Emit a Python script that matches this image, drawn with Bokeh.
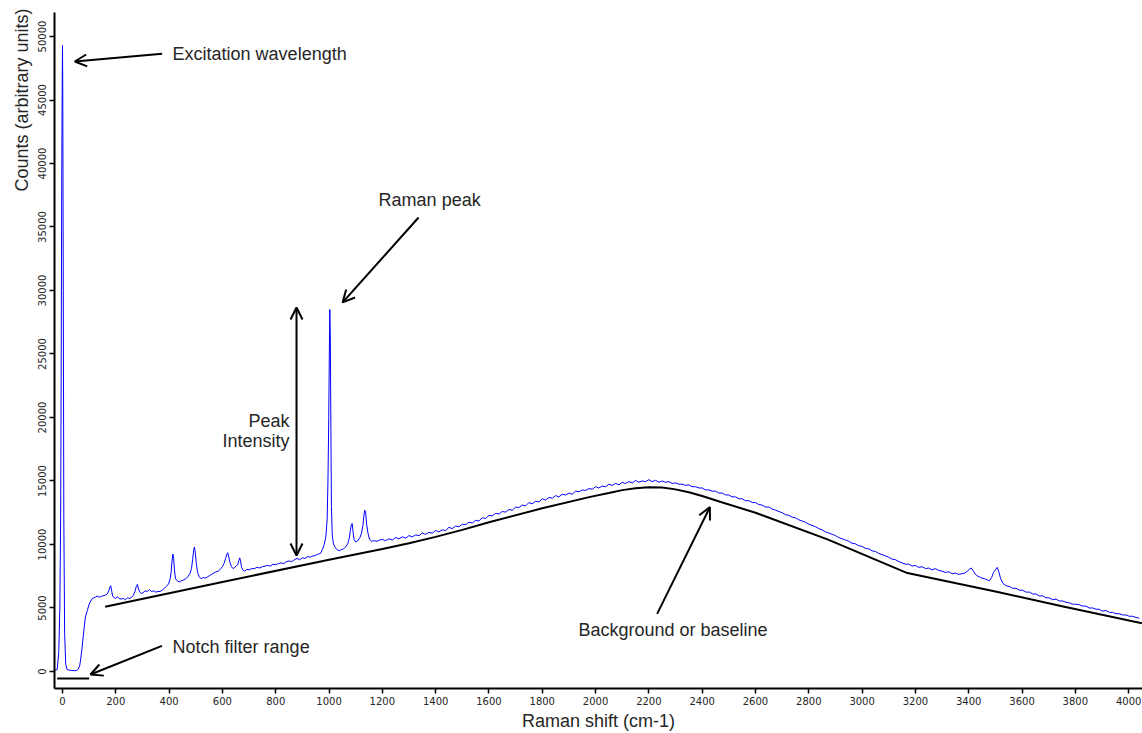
from bokeh.plotting import figure
from bokeh.models import Range1d, FixedTicker, Arrow, OpenHead, Label, ColumnDataSource, Title
from bokeh.embed import file_html
from bokeh.resources import INLINE

# ---------------- data ----------------
shift = [-30, -20, -14, -10, -7, -5, -3, -1, 0, 1, 3, 5, 8, 12, 17, 25, 35, 45, 52, 58, 64, 68, 72, 76, 80, 86, 93, 100, 106, 112, 118, 124, 130, 137, 143, 150, 160, 168,
         174, 178, 181, 184, 188, 194, 200, 206, 212, 220, 228, 236, 244, 252, 260, 266, 272, 277, 281, 285, 290, 296, 302, 310, 318, 326, 334, 342, 350, 358, 366, 374, 382, 390, 398,
         404, 408, 411, 414, 417, 420, 424, 430, 438, 446, 454, 462, 470, 478, 484, 488, 492, 495, 498, 502, 507, 513, 520, 528, 536, 544, 552, 560, 568, 576, 584, 592,
         600, 606, 612, 617, 620, 624, 628, 634, 640, 646, 652, 658, 662, 665, 668, 672, 678, 684, 692, 700, 710, 720, 730, 740, 750, 760, 770, 780, 790, 800, 810, 820,
         830, 840, 850, 860, 870, 880, 890, 900, 910, 920, 930, 940, 950, 960, 968, 975, 982, 988, 993, 996, 999, 1001, 1003, 1005, 1007, 1009, 1012, 1016, 1022, 1030,
         1038, 1046, 1054, 1062, 1070, 1076, 1080, 1084, 1087, 1090, 1094, 1100, 1108, 1116, 1122, 1127, 1131, 1134, 1137, 1141, 1146, 1152, 1160, 1170, 1180, 1190,
         1200, 1212, 1225, 1238, 1250, 1262, 1275, 1288, 1300, 1312, 1325, 1338, 1350, 1362, 1375, 1388, 1400, 1412, 1425, 1438, 1450, 1462, 1475, 1488,
         1500, 1512, 1525, 1538, 1550, 1562, 1575, 1588, 1600, 1612, 1625, 1638, 1650, 1662, 1675, 1688, 1700, 1712, 1725, 1738, 1750, 1762, 1775, 1788,
         1800, 1812, 1825, 1838, 1850, 1862, 1875, 1888, 1900, 1912, 1925, 1938, 1950, 1962, 1975, 1988, 2000, 2012, 2025, 2038, 2050, 2062, 2075, 2088,
         2100, 2112, 2125, 2138, 2150, 2162, 2175, 2188, 2200, 2212, 2225, 2238, 2250, 2262, 2275, 2288, 2300, 2312, 2325, 2338, 2350, 2362, 2375, 2388,
         2400, 2412, 2425, 2438, 2450, 2462, 2475, 2488, 2500, 2512, 2525, 2538, 2550, 2562, 2575, 2588, 2600, 2612, 2625, 2638, 2650, 2662, 2675, 2688,
         2700, 2712, 2725, 2738, 2750, 2762, 2775, 2788, 2800, 2812, 2825, 2838, 2850, 2862, 2875, 2888, 2900, 2912, 2925, 2938, 2950, 2962, 2975, 2988,
         3000, 3012, 3025, 3038, 3050, 3062, 3075, 3088, 3100, 3112, 3125, 3138, 3150, 3162, 3175, 3188, 3200, 3212, 3225, 3238, 3250, 3262, 3275, 3288,
         3300, 3312, 3325, 3338, 3350, 3362, 3375, 3385, 3395, 3403, 3410, 3416, 3422, 3430, 3440, 3450, 3460, 3470, 3478, 3486, 3493, 3500, 3507, 3513, 3520,
         3528, 3540, 3552, 3565, 3578, 3590, 3602, 3615, 3628, 3640, 3652, 3665, 3678, 3690, 3702, 3715, 3728, 3740, 3752, 3765, 3778, 3790, 3802, 3815, 3828,
         3840, 3852, 3865, 3878, 3890, 3902, 3915, 3928, 3940, 3952, 3965, 3978, 3990, 4002, 4015, 4028, 4040]
counts = [100, 150, 1500, 5000, 12000, 23000, 38000, 46500, 49300, 46000, 30000, 12000, 3000, 600, 150, 100, 80, 60, 80, 150, 400, 900, 1600, 2400, 3200, 4300, 4800, 5300, 5550, 5750, 5800, 5850, 5950, 5850, 5900, 5950, 6000, 6100,
          6350, 6650, 6750, 6400, 5950, 5800, 5750, 5900, 5750, 5700, 5750, 5650, 5800, 5750, 5850, 6000, 6300, 6700, 6850, 6500, 6250, 6150, 6200, 6350, 6300, 6450, 6300, 6350, 6250, 6300, 6300, 6400, 6550, 6700, 6900,
          7300, 7900, 8700, 9250, 8900, 8000, 7300, 7150, 7050, 7150, 7200, 7300, 7450, 7700, 8100, 8800, 9500, 9800, 9400, 8500, 7800, 7450, 7300, 7400, 7350, 7450, 7550, 7650, 7750, 7850, 7900, 8050,
          8250, 8500, 8900, 9250, 9350, 9000, 8600, 8250, 8100, 8200, 8300, 8450, 8750, 8950, 8700, 8200, 7950, 7900, 8050, 8000, 8100, 8100, 8200, 8150, 8250, 8300, 8350, 8300, 8450, 8400, 8500, 8550,
          8500, 8650, 8700, 8650, 8800, 8900, 8800, 8950, 8900, 9050, 9000, 9100, 9150, 9250, 9300, 9600, 10000, 10600, 12000, 15000, 20000, 25000, 28500, 26000, 19000, 13000, 10800, 10100, 9800, 9600,
          9500, 9600, 9650, 9800, 10050, 10500, 11100, 11600, 11650, 11000, 10400, 10200, 10300, 10550, 10900, 11500, 12300, 12700, 12600, 11600, 10900, 10400, 10250, 10300, 10250, 10350,
          10400, 10300, 10450, 10350, 10550, 10450, 10600, 10500, 10700, 10600, 10750, 10700, 10900, 10800, 10950, 10900, 11100, 11000, 11150, 11100, 11350, 11250, 11450, 11400,
          11600, 11550, 11750, 11700, 11900, 11850, 12100, 12050, 12300, 12250, 12450, 12400, 12600, 12550, 12750, 12700, 12950, 12900, 13100, 13050, 13300, 13200, 13400, 13350,
          13600, 13500, 13700, 13650, 13850, 13750, 13950, 13900, 14050, 13950, 14200, 14150, 14300, 14250, 14400, 14350, 14550, 14450, 14600, 14550, 14750, 14650, 14800, 14700,
          14900, 14800, 14950, 14850, 15050, 14900, 15000, 14950, 15100, 14950, 15050, 14900, 15000, 14900, 14950, 14800, 14850, 14750, 14750, 14650, 14700, 14550, 14550, 14450,
          14450, 14300, 14300, 14200, 14200, 14050, 14050, 13900, 13900, 13750, 13750, 13600, 13600, 13450, 13450, 13300, 13300, 13150, 13100, 12950, 12950, 12800, 12700, 12600,
          12500, 12350, 12300, 12150, 12100, 11950, 11850, 11750, 11600, 11500, 11400, 11250, 11150, 11000, 10900, 10800, 10700, 10550, 10450, 10350, 10250, 10100, 10050, 9900,
          9850, 9700, 9650, 9500, 9450, 9300, 9200, 9100, 9000, 8850, 8800, 8650, 8550, 8450, 8450, 8300, 8350, 8200, 8250, 8100, 8150, 8000, 8100, 7950,
          7900, 7800, 7850, 7700, 7750, 7650, 7700, 7750, 7900, 8050, 8150, 7950, 7750, 7550, 7450, 7350, 7300, 7200, 7150, 7400, 7800, 8000, 8200, 7850, 7300,
          6950, 6750, 6700, 6550, 6550, 6400, 6400, 6250, 6250, 6100, 6100, 5950, 5950, 5800, 5800, 5650, 5700, 5550, 5550, 5450, 5400, 5300, 5300, 5250, 5150,
          5150, 5000, 5000, 4900, 4900, 4750, 4800, 4650, 4650, 4550, 4550, 4450, 4450, 4350, 4350, 4250, 4200]

baseline_shift = [160, 600, 1000, 1200, 1300, 1400, 1500, 1600, 1800, 1980, 2050, 2100, 2150, 2200, 2250, 2300, 2350, 2400, 2470, 2600, 2870, 3170, 3500, 3750, 4050]
baseline_counts = [5100, 7050, 8800, 9650, 10100, 10600, 11150, 11750, 12850, 13750, 14050, 14280, 14430, 14500, 14480, 14340, 14120, 13820, 13350, 12500, 10400, 7750, 6300, 5130, 3800]

notch_shift = [-20, 100]
notch_level = [-550, -550]

x_ticks = list(range(0, 4001, 200))
y_ticks = list(range(0, 50001, 5000))

FONT = "Liberation Sans"
TICK_FONT = "DejaVu Sans"
TXT = "#262626"

p = figure(width=1142, height=733, output_backend="svg", toolbar_location=None,
           x_range=Range1d(-30, 4052), y_range=Range1d(-1340, 51890),
           min_border_left=54, min_border_right=0, min_border_top=12, min_border_bottom=45,
           background_fill_color="white", border_fill_color="white")
p.outline_line_color = None
p.xgrid.grid_line_color = None
p.ygrid.grid_line_color = None

src = ColumnDataSource(dict(x=shift, y=counts))
p.line("x", "y", source=src, line_color="#0000ff", line_width=1)
bsrc = ColumnDataSource(dict(x=baseline_shift, y=baseline_counts))
p.line("x", "y", source=bsrc, line_color="black", line_width=2)
nsrc = ColumnDataSource(dict(x=notch_shift, y=notch_level))
p.line("x", "y", source=nsrc, line_color="black", line_width=2)

for ax, ticks in ((p.xaxis, x_ticks), (p.yaxis, y_ticks)):
    ax.ticker = FixedTicker(ticks=ticks)
    ax.minor_tick_line_color = None
    ax.major_tick_out = 5
    ax.major_tick_in = 0
    ax.axis_line_width = 2
    ax.axis_line_color = "black"
    ax.major_tick_line_color = "black"
    ax.major_tick_line_width = 1.5
    ax.major_label_text_font = TICK_FONT
    ax.major_label_text_font_size = "10px"
    ax.major_label_text_color = TXT
    ax.major_label_standoff = 3
    ax.axis_label_text_font = FONT
    ax.axis_label_text_font_size = "18px"
    ax.axis_label_text_font_style = "normal"
    ax.axis_label_text_color = TXT

p.xaxis.axis_label = "Raman shift (cm-1)"
p.xaxis.axis_label_standoff = 3
p.yaxis.major_label_orientation = "vertical"

# y-axis title placed at the top end of the axis, as in the reference
ytitle = Title(text="Counts (arbitrary units)", align="right", text_font=FONT,
               text_font_size="18px", text_font_style="normal", text_color=TXT,
               standoff=8, offset=-4)
p.add_layout(ytitle, "left")

# ---------------- annotations ----------------
arrow_tails = [(374, 48640), (1336, 35750), (2231, 4540), (373, 2020)]
arrow_heads = [(46, 48030), (1051, 29060), (2429, 12940), (105, -240)]
for (x0, y0), (x1, y1) in zip(arrow_tails, arrow_heads):
    p.add_layout(Arrow(x_start=x0, y_start=y0, x_end=x1, y_end=y1, line_width=2, line_color="black",
                       end=OpenHead(size=12, line_width=2, line_color="black")))
p.add_layout(Arrow(x_start=878, y_start=9130, x_end=878, y_end=28660, line_width=2, line_color="black",
                   start=OpenHead(size=12, line_width=2, line_color="black"),
                   end=OpenHead(size=12, line_width=2, line_color="black")))

labels = [("Excitation wavelength", 413, 48660, "left"),
          ("Raman peak", 1186, 37090, "left"),
          ("Peak", 852, 19690, "right"),
          ("Intensity", 852, 18110, "right"),
          ("Background or baseline", 1936, 3230, "left"),
          ("Notch filter range", 413, 1890, "left")]
for txt, lx, ly, al in labels:
    p.add_layout(Label(x=lx, y=ly, text=txt, text_font=FONT, text_font_size="18px",
                       text_color=TXT, text_align=al, text_baseline="middle"))

open("out.html", "w").write(file_html(p, INLINE))
